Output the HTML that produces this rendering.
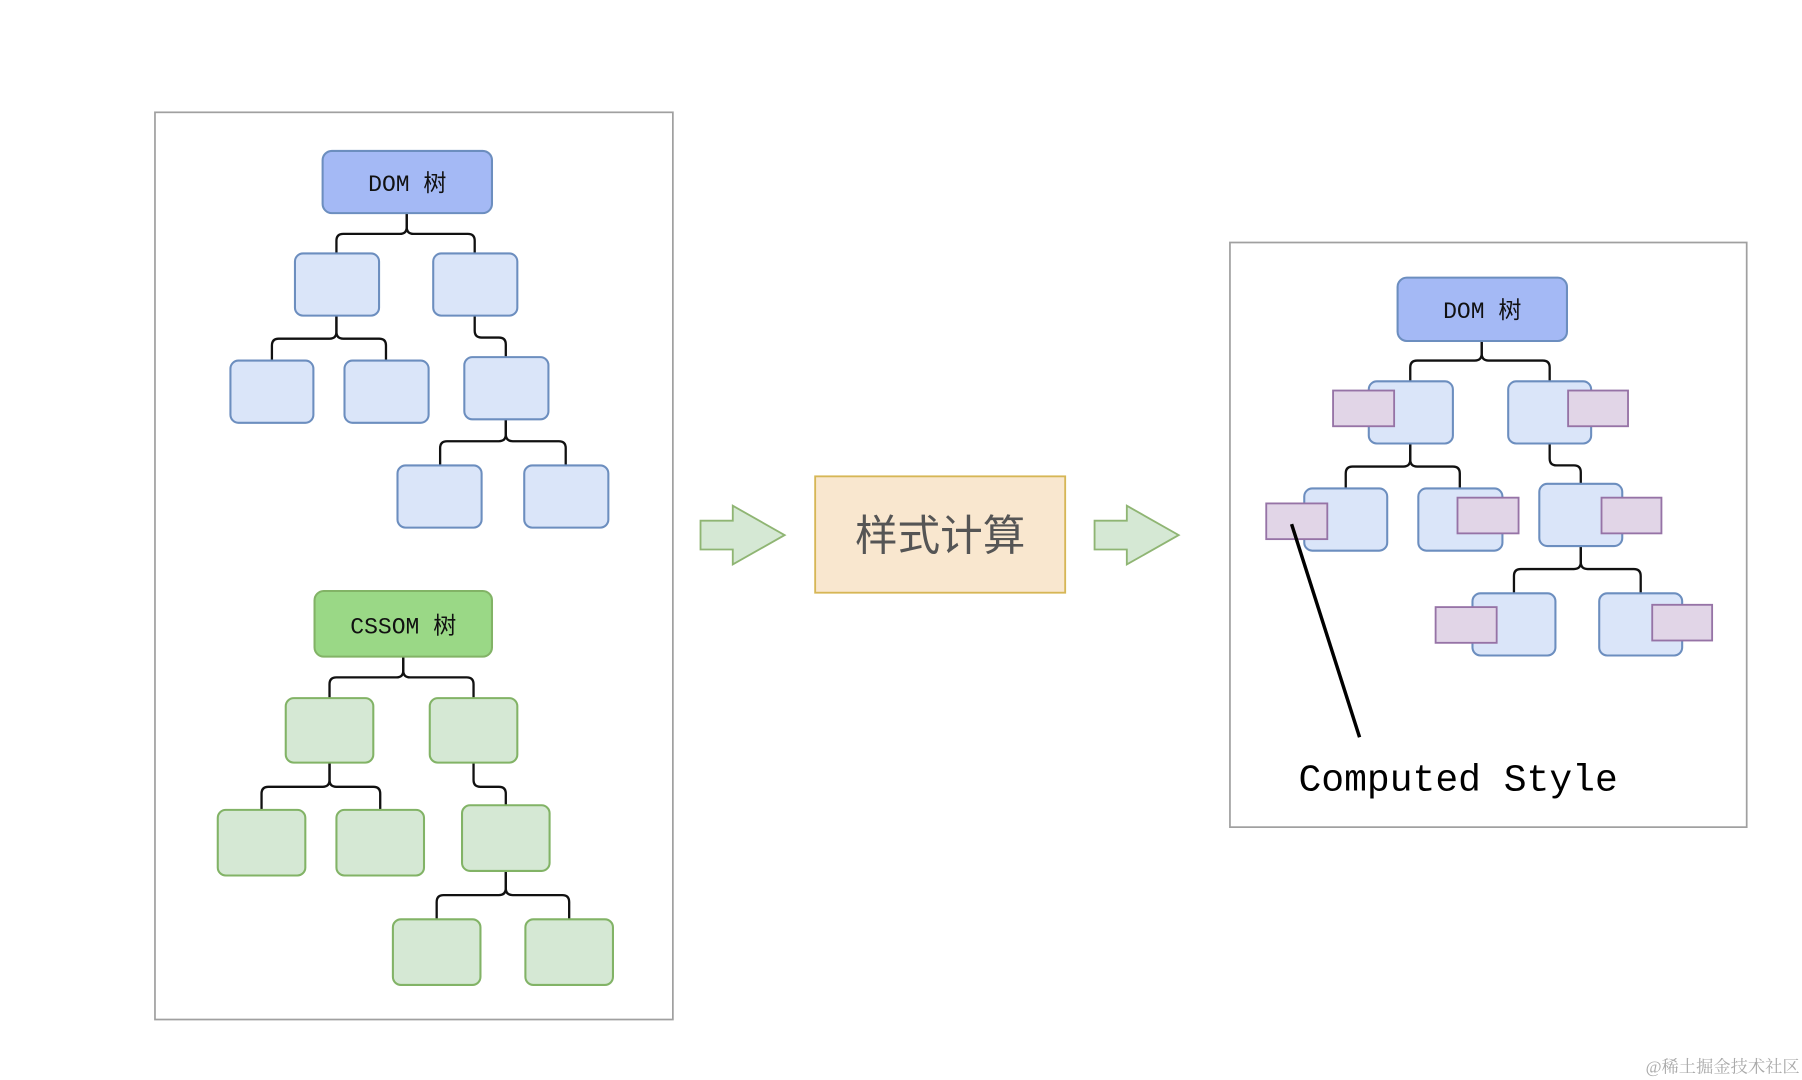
<!DOCTYPE html>
<html><head><meta charset="utf-8"><style>
html,body{margin:0;padding:0;background:#fff;width:1802px;height:1080px;overflow:hidden}
svg{display:block}
</style></head><body>
<svg width="1802" height="1080" viewBox="0 0 1564 937.5" preserveAspectRatio="none" xmlns="http://www.w3.org/2000/svg">
<g fill="none" stroke="#a0a0a0" stroke-width="1.5">
<rect x="134.5" y="97.5" width="449.5" height="787.5"/>
<rect x="1067.5" y="210.5" width="448.5" height="507.5"/>
</g>
<g fill="none" stroke="#111" stroke-width="2">
<path d="M353 185V197Q353 203 347 203H298Q292 203 292 209V220"/>
<path d="M353 185V197Q353 203 359 203H406Q412 203 412 209V220"/>
<path d="M292 274V288Q292 294 286 294H242Q236 294 236 300V313"/>
<path d="M292 274V288Q292 294 298 294H329Q335 294 335 300V313"/>
<path d="M412 274V287Q412 293 418 293H433Q439 293 439 299V310"/>
<path d="M439 364V377Q439 383 433 383H388Q382 383 382 389V404"/>
<path d="M439 364V377Q439 383 445 383H485Q491 383 491 389V404"/>
<path d="M350 570V582Q350 588 344 588H292Q286 588 286 594V606"/>
<path d="M350 570V582Q350 588 356 588H405Q411 588 411 594V606"/>
<path d="M286 662V677Q286 683 280 683H233Q227 683 227 689V703"/>
<path d="M286 662V677Q286 683 292 683H324Q330 683 330 689V703"/>
<path d="M411 662V677Q411 683 417 683H433Q439 683 439 689V699"/>
<path d="M439 756V771Q439 777 433 777H385Q379 777 379 783V798"/>
<path d="M439 756V771Q439 777 445 777H488Q494 777 494 783V798"/>
<path d="M1286 296V307Q1286 313 1280 313H1230Q1224 313 1224 319V331"/>
<path d="M1286 296V307Q1286 313 1292 313H1339Q1345 313 1345 319V331"/>
<path d="M1224 385V399Q1224 405 1218 405H1174Q1168 405 1168 411V424"/>
<path d="M1224 385V399Q1224 405 1230 405H1261Q1267 405 1267 411V424"/>
<path d="M1345 385V398Q1345 404 1351 404H1366Q1372 404 1372 410V420"/>
<path d="M1372 474V488Q1372 494 1366 494H1320Q1314 494 1314 500V515"/>
<path d="M1372 474V488Q1372 494 1378 494H1418Q1424 494 1424 500V515"/>
</g>
<g stroke="#6c8ebf" stroke-width="1.8">
<rect x="280" y="131" width="147" height="54" rx="8" fill="#a4b9f5"/>
<rect x="1213" y="241" width="147" height="55" rx="8" fill="#a4b9f5"/>
<g fill="#dae5f9">
<rect x="256" y="220" width="73" height="54" rx="7"/>
<rect x="376" y="220" width="73" height="54" rx="7"/>
<rect x="200" y="313" width="72" height="54" rx="7"/>
<rect x="299" y="313" width="73" height="54" rx="7"/>
<rect x="403" y="310" width="73" height="54" rx="7"/>
<rect x="345" y="404" width="73" height="54" rx="7"/>
<rect x="455" y="404" width="73" height="54" rx="7"/>
<rect x="1188" y="331" width="73" height="54" rx="7"/>
<rect x="1309" y="331" width="72" height="54" rx="7"/>
<rect x="1132" y="424" width="72" height="54" rx="7"/>
<rect x="1231" y="424" width="73" height="54" rx="7"/>
<rect x="1336" y="420" width="72" height="54" rx="7"/>
<rect x="1278" y="515" width="72" height="54" rx="7"/>
<rect x="1388" y="515" width="72" height="54" rx="7"/>
</g>
</g>
<g stroke="#82b366" stroke-width="1.8">
<rect x="273" y="513" width="154" height="57" rx="8" fill="#9ad886"/>
<g fill="#d5e8d4">
<rect x="248" y="606" width="76" height="56" rx="7"/>
<rect x="373" y="606" width="76" height="56" rx="7"/>
<rect x="189" y="703" width="76" height="57" rx="7"/>
<rect x="292" y="703" width="76" height="57" rx="7"/>
<rect x="401" y="699" width="76" height="57" rx="7"/>
<rect x="341" y="798" width="76" height="57" rx="7"/>
<rect x="456" y="798" width="76" height="57" rx="7"/>
</g>
</g>
<g fill="#e1d5e7" stroke="#9673a6" stroke-width="1.6">
<rect x="1157" y="339" width="53" height="31"/>
<rect x="1361" y="339" width="52" height="31"/>
<rect x="1099" y="437" width="53" height="31"/>
<rect x="1265" y="432" width="53" height="31"/>
<rect x="1390" y="432" width="52" height="31"/>
<rect x="1246" y="527" width="53" height="31"/>
<rect x="1434" y="525" width="52" height="31"/>
</g>
<g fill="#d5e8d4" stroke="#8fb573" stroke-width="1.6">
<path d="M608 452H636V439L681 464.5L636 490V477H608Z"/>
<path d="M950 452H978V439L1023 464.5L978 490V477H950Z"/>
</g>
<rect x="707.5" y="413.5" width="217" height="101" fill="#f9e7cf" stroke="#d6b656" stroke-width="1.6"/>
<text x="816" y="478" text-anchor="middle" font-family="'Liberation Sans','Noto Sans CJK SC',sans-serif" font-size="37" fill="#555">样式计算</text>
<line x1="1121" y1="455" x2="1180" y2="640" stroke="#000" stroke-width="3"/>
<g font-family="'Liberation Mono','Noto Sans CJK SC',monospace" font-size="20" fill="#111" text-anchor="middle">
<text x="353.5" y="166">DOM 树</text>
<text x="1286.5" y="276">DOM 树</text>
<text x="350" y="550">CSSOM 树</text>
</g>
<text x="1127" y="686" font-family="'Liberation Mono',monospace" font-size="33" fill="#000">Computed Style</text>
<text x="1562" y="931" text-anchor="end" font-family="'Liberation Serif','Noto Serif CJK SC',serif" font-size="15" fill="#aaa">@稀土掘金技术社区</text>
</svg>
</body></html>
